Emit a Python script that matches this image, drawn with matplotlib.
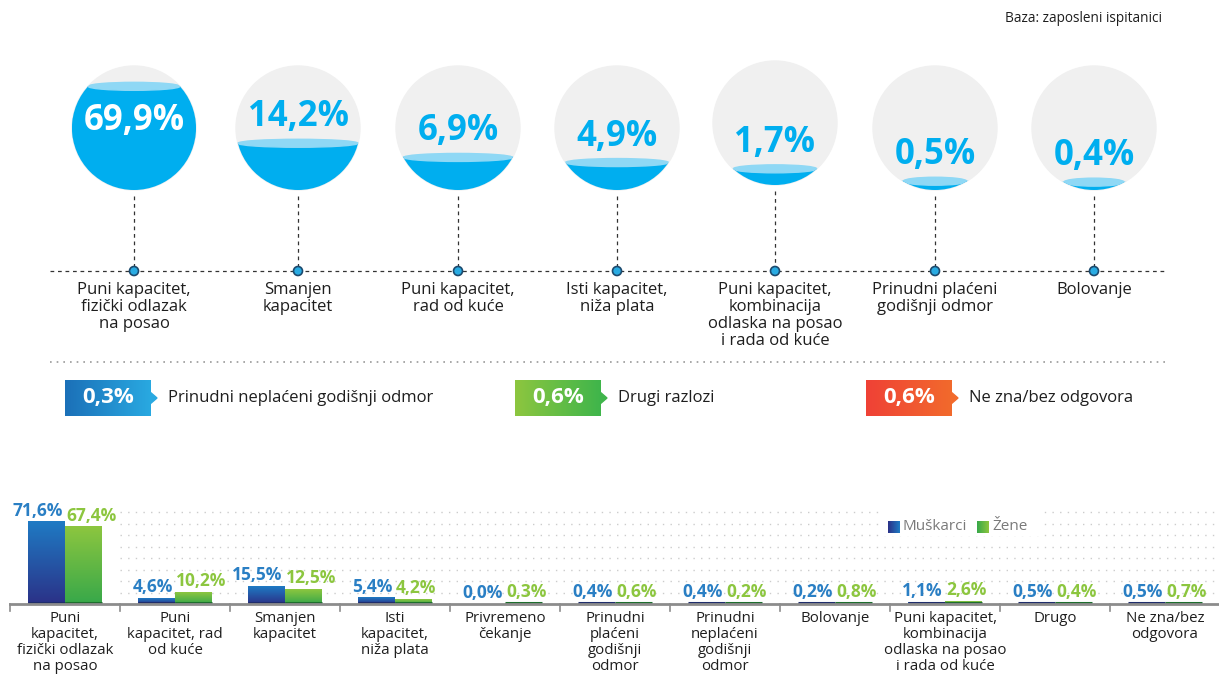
import numpy as np
import matplotlib
matplotlib.use('Agg')
import matplotlib.pyplot as plt
from matplotlib.patches import Circle, Rectangle, Ellipse, Polygon
from matplotlib.colors import LinearSegmentedColormap

plt.rcParams['font.family'] = ['Open Sans', 'DejaVu Sans']

# top row: share of employed respondents per work status
top_cats = ['Puni kapacitet,\nfizički odlazak\nna posao', 'Smanjen\nkapacitet',
            'Puni kapacitet,\nrad od kuće', 'Isti kapacitet,\nniža plata',
            'Puni kapacitet,\nkombinacija\nodlaska na posao\ni rada od kuće',
            'Prinudni plaćeni\ngodišnji odmor', 'Bolovanje']
top_vals = [69.9, 14.2, 6.9, 4.9, 1.7, 0.5, 0.4]

# small categories shown as tags
tag_labels = ['Prinudni neplaćeni godišnji odmor', 'Drugi razlozi', 'Ne zna/bez odgovora']
tag_vals = [0.3, 0.6, 0.6]

# bottom chart: men vs women
bar_cats = ['Puni\nkapacitet,\nfizički odlazak\nna posao', 'Puni\nkapacitet, rad\nod kuće',
            'Smanjen\nkapacitet', 'Isti\nkapacitet,\nniža plata', 'Privremeno\nčekanje',
            'Prinudni\nplaćeni\ngodišnji\nodmor', 'Prinudni\nneplaćeni\ngodišnji\nodmor',
            'Bolovanje', 'Puni kapacitet,\nkombinacija\nodlaska na posao\ni rada od kuće',
            'Drugo', 'Ne zna/bez\nodgovora']
men = [71.6, 4.6, 15.5, 5.4, 0.0, 0.4, 0.4, 0.2, 1.1, 0.5, 0.5]
women = [67.4, 10.2, 12.5, 4.2, 0.3, 0.6, 0.2, 0.8, 2.6, 0.4, 0.7]


def pct(v):
    return f'{v:.1f}'.replace('.', ',') + '%'


W, H = 1219, 675
fig = plt.figure(figsize=(W / 100, H / 100), dpi=100)

# ---- bar chart ----
axb = fig.add_axes([10 / W, (H - 604) / H, 1210 / W, 104 / H])
axb.axis('off')

blue_cm = LinearSegmentedColormap.from_list('b', ['#2b3187', '#1f7bc4'])
green_cm = LinearSegmentedColormap.from_list('g', ['#37a84a', '#8dc63f'])
grad = np.linspace(0, 1, 256).reshape(-1, 1)

for g in range(10, 90, 10):
    axb.plot([1, 11], [g, g], color='#cccccc', lw=1.0, ls=(0, (1, 4.5)), zorder=1)

bw = 0.336
x = np.arange(len(bar_cats)) + 0.5
for xi, m, w in zip(x, men, women):
    for x0, v, cm, dark in [(xi - bw, m, blue_cm, '#1f2d6b'), (xi, w, green_cm, '#1e6e2e')]:
        if v > 0:
            axb.imshow(grad, extent=[x0, x0 + bw, 0, v], origin='lower', cmap=cm,
                       aspect='auto', zorder=3)
            axb.plot([x0, x0 + bw], [0.6, 0.6], color=dark, lw=2.2,
                     solid_capstyle='butt', zorder=4)
    axb.text(xi - 0.02, m + 2.0, pct(m), ha='right', va='bottom', color='#2a7fc4',
             fontsize=12.5, fontweight='bold', zorder=5)
    axb.text(xi + 0.01, w + 2.0, pct(w), ha='left', va='bottom', color='#8cc63f',
             fontsize=12.5, fontweight='bold', zorder=5)
axb.set_xlim(0, 11)
axb.set_ylim(0, 90.8)

# ---- overlay in pixel coordinates ----
axo = fig.add_axes([0, 0, 1, 1])
axo.set_zorder(2)
axo.patch.set_alpha(0)
axo.axis('off')

# baseline and ticks of the bar chart
axo.plot([10, W], [604, 604], color='#8c8c8c', lw=2, zorder=1)
for i in range(len(bar_cats) + 1):
    tx = 10 + i * 110
    axo.plot([tx, tx], [604, 611], color='#8c8c8c', lw=1.2, zorder=1)
for i, lab in enumerate(bar_cats):
    axo.text(10 + 110 * i + 55, 611, lab, ha='center', va='top', fontsize=10.8,
             color='#1e1e1e', linespacing=1.1)

# legend
axo.add_patch(Rectangle((882, 507), 160, 28, color='white', zorder=3))
for lx, cm, lab in [(888, blue_cm, 'Muškarci'), (977, green_cm, 'Žene')]:
    axo.imshow(np.linspace(0, 1, 64).reshape(1, -1), extent=[lx, lx + 12, 533, 521],
               cmap=cm, aspect='auto', zorder=4)
    axo.text(lx + 15, 527, lab, ha='left', va='center', fontsize=11, color='#7a7a7a', zorder=4)

# top: base note
axo.text(1162, 18, 'Baza: zaposleni ispitanici', ha='right', va='center', fontsize=9.8,
         color='#1e1e1e')

# circles
cxs = [134, 298, 458, 617, 775, 935, 1094]
cys = [128, 128, 128, 128, 123, 128, 128]
r = 62
axo.plot([50, 1165], [271, 271], color='#333333', lw=0.9, ls=(0, (3, 3)), zorder=1)
for cx, cy, v, lab in zip(cxs, cys, top_vals, top_cats):
    circ = Circle((cx, cy), r, color='#f0f0f0', zorder=2)
    axo.add_patch(circ)
    fill_h = np.sqrt(v / 100) * 2 * r
    yf = cy + r - fill_h
    liquid = Rectangle((cx - r, yf), 2 * r, fill_h + 2, color='#00aeef', zorder=3)
    axo.add_patch(liquid)
    liquid.set_clip_path(circ)
    half = np.sqrt(max(r ** 2 - (yf - cy) ** 2, 0))
    surf = Ellipse((cx, yf), 2 * half, 8, color='#8fd8f5', zorder=4)
    axo.add_patch(surf)
    surf.set_clip_path(circ)
    if v > 50:
        axo.text(cx, cy - 7, pct(v), ha='center', va='center', color='white',
                 fontsize=25, fontweight='bold', zorder=5)
    else:
        axo.text(cx, yf - 26, pct(v), ha='center', va='center', color='#00aeef',
                 fontsize=25, fontweight='bold', zorder=5)
    axo.plot([cx, cx], [cy + r + 6, 271], color='#333333', lw=0.9, ls=(0, (3, 3)), zorder=1)
    axo.add_patch(Circle((cx, 271), 4.5, facecolor='#29abe2', edgecolor='#1c4a6e',
                         lw=1.2, zorder=5))
    axo.text(cx, 282, lab, ha='center', va='top', fontsize=12, color='#1e1e1e',
             linespacing=1.08)

# dotted separator
axo.plot([50, 1165], [362, 362], color='#9a9a9a', lw=1.2, ls=(0, (1, 3)), zorder=1)

# tags
tag_x = [65, 515, 866]
tag_colors = [('#1b70b8', '#29a9e1'), ('#8dc63f', '#3fb54b'), ('#ef4136', '#f26a2c')]
hgrad = np.linspace(0, 1, 256).reshape(1, -1)
for tx, v, lab, (c0, c1) in zip(tag_x, tag_vals, tag_labels, tag_colors):
    cm = LinearSegmentedColormap.from_list('t', [c0, c1])
    axo.imshow(hgrad, extent=[tx, tx + 86, 416, 380], cmap=cm, aspect='auto', zorder=2)
    axo.add_patch(Polygon([[tx + 85, 392], [tx + 92, 398], [tx + 85, 404]], closed=True,
                          color=c1, zorder=2))
    axo.text(tx + 43, 397, pct(v), ha='center', va='center', color='white',
             fontsize=16, fontweight='bold', zorder=3)
    axo.text(tx + 103, 398, lab, ha='left', va='center', fontsize=12, color='#1e1e1e')

axo.set_xlim(0, W)
axo.set_ylim(H, 0)

fig.savefig('out.png', dpi=100)
